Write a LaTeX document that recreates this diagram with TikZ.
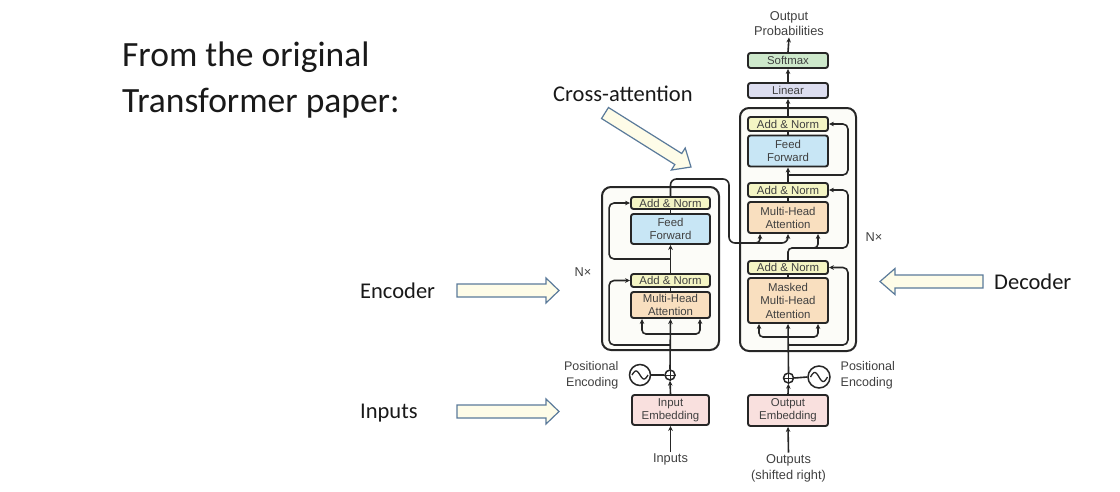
\documentclass[tikz,border=0pt]{standalone}
\usepackage{fontspec}
\setmainfont{Liberation Sans}
\newfontfamily\slidefont{Carlito}
\usetikzlibrary{arrows.meta,calc}
\definecolor{addc}{HTML}{F4F5C4}
\definecolor{ffc}{HTML}{C8E6F5}
\definecolor{mhac}{HTML}{F9DFBF}
\definecolor{embc}{HTML}{F9E0DE}
\definecolor{linc}{HTML}{DCDDEF}
\definecolor{softc}{HTML}{CDE8CB}
\definecolor{outerc}{HTML}{FCFCF8}
\definecolor{edgec}{HTML}{262626}
\definecolor{txtc}{HTML}{404040}
\definecolor{bafill}{HTML}{FEFCE8}
\definecolor{baline}{HTML}{5A7A9A}
\begin{document}
\begin{tikzpicture}[x=1pt,y=-1pt,
  box/.style={draw=edgec, line width=1.9pt, rounded corners=2.5pt, inner sep=0pt,
    minimum width=79pt, align=center, text=txtc,
    font=\fontsize{11.4}{13}\selectfont},
  outerbox/.style={draw=edgec, line width=2pt, rounded corners=9pt, fill=outerc, inner sep=0pt},
  lbl/.style={text=txtc, align=center, inner sep=1.5pt, font=\fontsize{12.8}{15.5}\selectfont},
  conn/.style={draw=edgec, line width=1.6pt},
  arr/.style={conn, -{Stealth[length=5pt,width=4.6pt]}},
  rc/.style={rounded corners=5pt},
  circ/.style={draw=edgec, line width=1.5pt, circle, inner sep=0pt, fill=white},
  slide/.style={text=black!90, inner sep=0pt, font=\slidefont\fontsize{22.5}{27}\selectfont},
  title/.style={slide, font=\slidefont\fontsize{35.5}{42}\selectfont},
  blockarrow/.style={draw=baline, line width=1.2pt, fill=bafill, line join=miter}
]
\useasboundingbox (0,0) rectangle (1120,491);

% ---------- slide text ----------
\node[title, anchor=base west] (t1) at (122,66) {From the original};
\node[title, anchor=base west] (t2) at (122,112) {Transformer paper:};
\node[slide, anchor=base west] (crossl) at (553,101) {Cross-attention};
\node[slide, anchor=base west] (encl) at (360,298) {Encoder};
\node[slide, anchor=base west] (decl) at (994,289) {Decoder};
\node[slide, anchor=base west] (inpl) at (360,418) {Inputs};

% ---------- block arrows ----------
\draw[blockarrow] (457,284) -- (546,284) -- (546,278) -- (559,290.5) -- (546,303) -- (546,297) -- (457,297) -- cycle;
\draw[blockarrow] (457,405) -- (546,405) -- (546,399) -- (559,411.5) -- (546,424) -- (546,418) -- (457,418) -- cycle;
\draw[blockarrow] (983,275) -- (895,275) -- (895,268.5) -- (880,281.5) -- (895,294.5) -- (895,288) -- (983,288) -- cycle;
\coordinate (ca) at (605,113);
\coordinate (cb) at (691,167);
\coordinate (ch) at ($(cb)!15pt!(ca)$);
\draw[blockarrow] ($(ca)!6.5pt!90:(cb)$) -- ($(ch)!6.5pt!-90:(ca)$) -- ($(ch)!13pt!-90:(ca)$) -- (cb)
  -- ($(ch)!13pt!90:(ca)$) -- ($(ch)!6.5pt!90:(ca)$) -- ($(ca)!6.5pt!-90:(cb)$) -- cycle;

% ---------- outer boxes ----------
\node[outerbox, minimum width=117pt, minimum height=163pt] (encbox) at (660.5,268.5) {};
\node[outerbox, minimum width=116pt, minimum height=243pt] (decbox) at (798,229.5) {};

% ---------- encoder ----------
\node[box, fill=addc, minimum height=12pt] (eadd2) at (670.5,203) {Add \& Norm};
\node[box, fill=ffc, minimum height=30pt] (eff) at (670.5,229) {Feed\\Forward};
\node[box, fill=addc, minimum height=13pt] (eadd1) at (670.5,280.5) {Add \& Norm};
\node[box, fill=mhac, minimum height=26pt] (emha) at (670.5,305) {Multi-Head\\Attention};
\node[box, fill=embc, minimum width=77pt, minimum height=30pt] (eemb) at (670.5,410) {Input\\Embedding};
\node[circ, minimum size=10pt] (eplus) at (670,375) {};
\draw[edgec, line width=1pt] (eplus.north) -- (eplus.south) (eplus.west) -- (eplus.east);
\node[circ, minimum size=21pt] (esin) at (640,375) {};
\draw[edgec, line width=1.3pt, shift={(esin.center)}, domain=-1:1, samples=40, smooth] plot ({\x*8},{4*sin(\x*180)});
\node[lbl, anchor=east, align=right, font=\fontsize{12.5}{16}\selectfont] (epos) at (620,375) {Positional\\Encoding};
\node[lbl] (inputs) at (670.5,459) {Inputs};
\node[lbl] (enx) at (583,272) {N×};

% encoder connectors
\draw[arr] (inputs.north) -- (eemb.south);
\draw[arr] (eemb.north) -- (eplus.south);
\draw[conn] (esin.east) -- (eplus.west);
\draw[arr] (eplus.north) -- (emha.south);
\coordinate (esplit) at (670.5,334);
\coordinate (ekl) at ([xshift=-28.5pt]emha.south);
\coordinate (ekr) at ([xshift=29.5pt]emha.south);
\draw[arr, rounded corners=4pt] (esplit) -| (ekl);
\draw[arr, rounded corners=4pt] (esplit) -| (ekr);
\coordinate (eres1) at (670.5,345);
\draw[arr, rc] (eres1) -| ([xshift=-21pt]eadd1.west) -- (eadd1.west);
\draw[conn] (emha.north) -- (eadd1.south);
\draw[arr] (eadd1.north) -- (eff.south);
\coordinate (eres2) at (670.5,259);
\draw[arr, rc] (eres2) -| ([xshift=-21pt]eadd2.west) -- (eadd2.west);
\draw[conn] (eff.north) -- (eadd2.south);

% ---------- decoder ----------
\node[box, fill=softc, minimum width=80pt, minimum height=15pt] (dsoft) at (788,60.5) {Softmax};
\node[box, fill=linc, minimum width=80pt, minimum height=15pt] (dlin) at (788,90.5) {Linear};
\node[box, fill=addc, minimum width=80pt, minimum height=14pt] (dadd3) at (788,124) {Add \& Norm};
\node[box, fill=ffc, minimum width=80pt, minimum height=31pt] (dff) at (788,151) {Feed\\Forward};
\node[box, fill=addc, minimum width=80pt, minimum height=14pt] (dadd2) at (788,190) {Add \& Norm};
\node[box, fill=mhac, minimum width=80pt, minimum height=31pt] (dmha) at (788,217.5) {Multi-Head\\Attention};
\node[box, fill=addc, minimum width=80pt, minimum height=13pt] (dadd1) at (788,267.5) {Add \& Norm};
\node[box, fill=mhac, minimum width=80pt, minimum height=45pt, font=\fontsize{11.4}{13.5}\selectfont] (dmmha) at (788,300.5) {Masked\\Multi-Head\\Attention};
\node[box, fill=embc, minimum width=80pt, minimum height=31pt] (demb) at (788,410.5) {Output\\Embedding};
\node[circ, minimum size=10pt] (dplus) at (788.5,378) {};
\draw[edgec, line width=1pt] (dplus.north) -- (dplus.south) (dplus.west) -- (dplus.east);
\node[circ, minimum size=22pt] (dsin) at (819,377) {};
\draw[edgec, line width=1.3pt, shift={(dsin.center)}, domain=-1:1, samples=40, smooth] plot ({\x*8.5},{4.5*sin(\x*180)});
\node[lbl, anchor=west, align=left, font=\fontsize{12.5}{16}\selectfont] (dpos) at (839,375.5) {Positional\\Encoding};
\node[lbl, font=\fontsize{12.8}{16}\selectfont] (outputs) at (788.5,468) {Outputs\\(shifted right)};
\node[lbl] (outprob) at (789,23.5) {Output\\Probabilities};
\node[lbl] (dnx) at (874,237) {N×};

% decoder connectors
\draw[arr] (outputs.north) -- (demb.south);
\draw[arr] (demb.north) -- (dplus.south);
\draw[conn] (dsin.west) -- (dplus.east);
\draw[arr] (dplus.north) -- (dmmha.south);
\coordinate (dsplit) at (788,337);
\coordinate (dvl) at ([xshift=-29pt]dmmha.south);
\coordinate (dvr) at ([xshift=30pt]dmmha.south);
\draw[arr, rounded corners=4pt] (dsplit) -| (dvl);
\draw[arr, rounded corners=4pt] (dsplit) -| (dvr);
\coordinate (dres1) at (788,345);
\draw[arr, rc] (dres1) -| ([xshift=19pt]dadd1.east) -- (dadd1.east);
\draw[conn] (dmmha.north) -- (dadd1.south);
\coordinate (dq) at (788,248);
\coordinate (dqr) at ([xshift=30pt]dmha.south);
\draw[arr, rounded corners=4pt] (dadd1.north) |- (dqr |- dq) -- (dqr);
\coordinate (dres2) at (800,248);
\draw[arr, rc] (dres2) -| ([xshift=19pt]dadd2.east) -- (dadd2.east);
\draw[conn] (dmha.north) -- (dadd2.south);
\draw[arr] (dadd2.north) -- (dff.south);
\coordinate (dres3) at (788,175);
\draw[arr, rc] (dres3) -| ([xshift=19pt]dadd3.east) -- (dadd3.east);
\draw[conn] (dff.north) -- (dadd3.south);
\draw[arr] (dadd3.north) -- (dlin.south);
\draw[arr] (dlin.north) -- (dsoft.south);
\draw[arr] (dsoft.north) -- (outprob.south);

% ---------- encoder to decoder (cross-attention) ----------
\coordinate (eo) at (729,179);
\coordinate (eo2) at (729,243);
\draw[arr, rounded corners=6pt] (eadd2.north) |- (eo) -- (eo2) -| (dmha.south);
\coordinate (dkl) at ([xshift=-28pt]dmha.south);
\draw[arr, rounded corners=4pt] ($(dkl |- eo2)+(-12,0)$) -| (dkl);
\end{tikzpicture}
\end{document}
